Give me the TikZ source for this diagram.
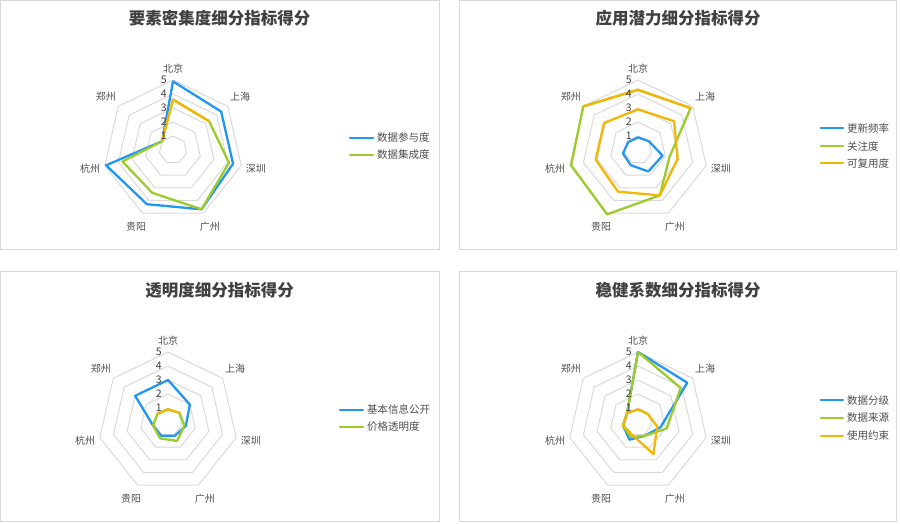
\documentclass[tikz,border=0pt]{standalone}
\usepackage{fontspec}
\setmainfont{Noto Sans CJK SC}
\usepackage{xcolor}
\definecolor{Chart Blue}{HTML}{2196F3}
\definecolor{Chart Green}{HTML}{9CCB2C}
\definecolor{Chart Gold}{HTML}{F2B705}
\definecolor{Ring Grey}{HTML}{D9D9D9}
\definecolor{Ink}{HTML}{404040}
\definecolor{Soft Ink}{HTML}{4D4D4D}
\colorlet{cBlue}{Chart Blue}
\colorlet{cGreen}{Chart Green}
\colorlet{cGold}{Chart Gold}
\colorlet{cGrid}{Ring Grey}
\usetikzlibrary{calc, positioning}
\tikzset{
	x = 1pt,
	y = 1pt,
	font = \fontsize{10}{12}\selectfont,
	panel/.style={
		draw=cGrid,
		line width=1pt
	},
	ring/.style={
		draw=cGrid,
		line width=1pt,
		line join=round
	},
	series/.style={
		line width=2.3pt,
		line join=round,
		line cap=round
	},
	title/.style={
		font=\fontsize{16.5}{18}\selectfont\bfseries,
		text=Ink,
		inner sep=0pt
	},
	city/.style={
		font=\fontsize{10}{12}\selectfont,
		text=Soft Ink,
		inner sep=0pt
	},
	tick/.style={
		font=\fontsize{10.5}{12}\selectfont,
		text=Ink,
		anchor=east,
		inner sep=0pt
	},
	legend/.style={
		font=\fontsize{10.5}{12}\selectfont,
		text=Soft Ink,
		anchor=west,
		inner sep=0pt
	}
}

\begin{document}
\begin{tikzpicture}
\useasboundingbox (0,0) rectangle (900,523);
% ---
% frames and titles
% ---
\draw[panel] (0.5,522.5) rectangle (439.3,273.7);
\draw[panel] (459.3,522.5) rectangle (896.7,273.3);
\draw[panel] (0.5,251) rectangle (439.3,1.7);
\draw[panel] (459.3,251) rectangle (896.7,1.7);

\node[title] (title-1) at (219.5,505) {要素密集度细分指标得分};
\node[title] (title-2) at (678,505) {应用潜力细分指标得分};
\node[title] (title-3) at (219.5,233) {透明度细分指标得分};
\node[title] (title-4) at (678,233) {稳健系数细分指标得分};

% ---
% rings, scale and cities
% ---
\foreach \p/\cx/\cy in {1/173/373, 2/638/373, 3/168/101, 4/638/101} {
	\begin{scope}[shift={(\cx,\cy)}]
		\foreach \r in {1,...,5}
			\draw[ring] (90:\r*14) \foreach \k in {1,...,6}{ -- (90-\k*360/7:\r*14)} -- cycle;
		\foreach \c/\d [count=\k from 0] in {北京/81, 上海/86, 深圳/85, 广州/85, 贵阳/85, 杭州/85, 郑州/86}
			\node[city] (city-\p-\k) at (90-\k*360/7:\d) {\c};
	\end{scope}
}

% ---
% 要素密集度
% ---
\begin{scope}[shift={(173,373)}]
	\foreach \v [count=\k from 0] in {4.9,4.4,4.4,4.7,4.3,4.9,1.0}
		\coordinate (s1a-\k) at (90-\k*360/7:\v*14);
	\foreach \v [count=\k from 0] in {3.6,3.3,4.1,4.7,3.4,3.7,1.0}
		\coordinate (s1b-\k) at (90-\k*360/7:\v*14);
	\draw[series, cBlue] (s1a-0) \foreach \k in {1,...,6}{ -- (s1a-\k)} -- cycle;
	\draw[series, cGreen] (s1b-0) \foreach \k in {1,...,6}{ -- (s1b-\k)} -- cycle;
	\draw[series, cGold] (s1b-6) -- (s1b-0) -- (s1b-1);
\end{scope}
\draw[series, cBlue] (350,385.3) -- (373,385.3);
\node[legend] (leg-1a) at (377,385.3) {数据参与度};
\draw[series, cGreen] (350,368) -- (373,368);
\node[legend] (leg-1b) at (377,368) {数据集成度};

% ---
% 应用潜力
% ---
\begin{scope}[shift={(638,373)}]
	\foreach \v [count=\k from 0] in {0.9,1.0,1.8,1.7,1.2,1.1,0.9}
		\coordinate (s2a-\k) at (90-\k*360/7:\v*14);
	\foreach \v [count=\k from 0] in {4.3,4.8,2.3,3.6,5.1,4.9,5.0}
		\coordinate (s2b-\k) at (90-\k*360/7:\v*14);
	\foreach \v [count=\k from 0] in {2.9,3.3,2.9,3.6,3.3,3.1,3.1}
		\coordinate (s2c-\k) at (90-\k*360/7:\v*14);
	\draw[series, cBlue] (s2a-0) \foreach \k in {1,...,6}{ -- (s2a-\k)} -- cycle;
	\draw[series, cGreen] (s2b-0) \foreach \k in {1,...,6}{ -- (s2b-\k)} -- cycle;
	\draw[series, cGold] (s2c-0) \foreach \k in {1,...,6}{ -- (s2c-\k)} -- cycle;
	\draw[series, cGold] (s2b-6) -- (s2b-0) -- (s2b-1);
\end{scope}
\draw[series, cBlue] (821,394.7) -- (843,394.7);
\node[legend] (leg-2a) at (847,394.7) {更新频率};
\draw[series, cGreen] (821,377) -- (843,377);
\node[legend] (leg-2b) at (847,377) {关注度};
\draw[series, cGold] (821,359.7) -- (843,359.7);
\node[legend] (leg-2c) at (847,359.7) {可复用度};

% ---
% 透明度
% ---
\begin{scope}[shift={(168,101)}]
	\foreach \v [count=\k from 0] in {3.0,2.0,1.3,1.1,1.1,1.1,3.0}
		\coordinate (s3a-\k) at (90-\k*360/7:\v*14);
	\foreach \v [count=\k from 0] in {0.9,1.05,1.2,1.5,1.3,1.1,0.95}
		\coordinate (s3b-\k) at (90-\k*360/7:\v*14);
	\draw[series, cBlue] (s3a-0) \foreach \k in {1,...,6}{ -- (s3a-\k)} -- cycle;
	\draw[series, cGreen] (s3b-0) \foreach \k in {1,...,6}{ -- (s3b-\k)} -- cycle;
	\draw[series, cGold] (s3b-6) -- (s3b-0) -- (s3b-1);
\end{scope}
\draw[series, cBlue] (340,113.3) -- (363,113.3);
\node[legend] (leg-3a) at (367,113.3) {基本信息公开};
\draw[series, cGreen] (340,96) -- (363,96);
\node[legend] (leg-3b) at (367,96) {价格透明度};

% ---
% 稳健系数
% ---
\begin{scope}[shift={(638,101)}]
	\foreach \v [count=\k from 0] in {5.0,4.5,1.65,1.1,1.4,1.1,1.0}
		\coordinate (s4a-\k) at (90-\k*360/7:\v*14);
	\foreach \v [count=\k from 0] in {5.0,3.9,2.1,1.1,1.2,1.1,1.0}
		\coordinate (s4b-\k) at (90-\k*360/7:\v*14);
	\foreach \v [count=\k from 0] in {0.9,0.9,1.4,2.55,1.0,1.1,1.0}
		\coordinate (s4c-\k) at (90-\k*360/7:\v*14);
	\draw[series, cBlue] (s4a-0) \foreach \k in {1,...,6}{ -- (s4a-\k)} -- cycle;
	\draw[series, cGreen] (s4b-0) \foreach \k in {1,...,6}{ -- (s4b-\k)} -- cycle;
	\draw[series, cGold] (s4c-0) \foreach \k in {1,...,6}{ -- (s4c-\k)} -- cycle;
\end{scope}
\draw[series, cBlue] (821,122.7) -- (843,122.7);
\node[legend] (leg-4a) at (847,122.7) {数据分级};
\draw[series, cGreen] (821,105) -- (843,105);
\node[legend] (leg-4b) at (847,105) {数据来源};
\draw[series, cGold] (821,87) -- (843,87);
\node[legend] (leg-4c) at (847,87) {使用约束};

% ---
% scale numbers on top of the series
% ---
\foreach \p/\cx/\cy in {1/173/373, 2/638/373, 3/168/101, 4/638/101} {
	\begin{scope}[shift={(\cx,\cy)}]
		\foreach \r in {1,...,5}
			\node[tick] (tick-\p-\r) at (-6,\r*14) {\r};
	\end{scope}
}
\end{tikzpicture}
\end{document}
